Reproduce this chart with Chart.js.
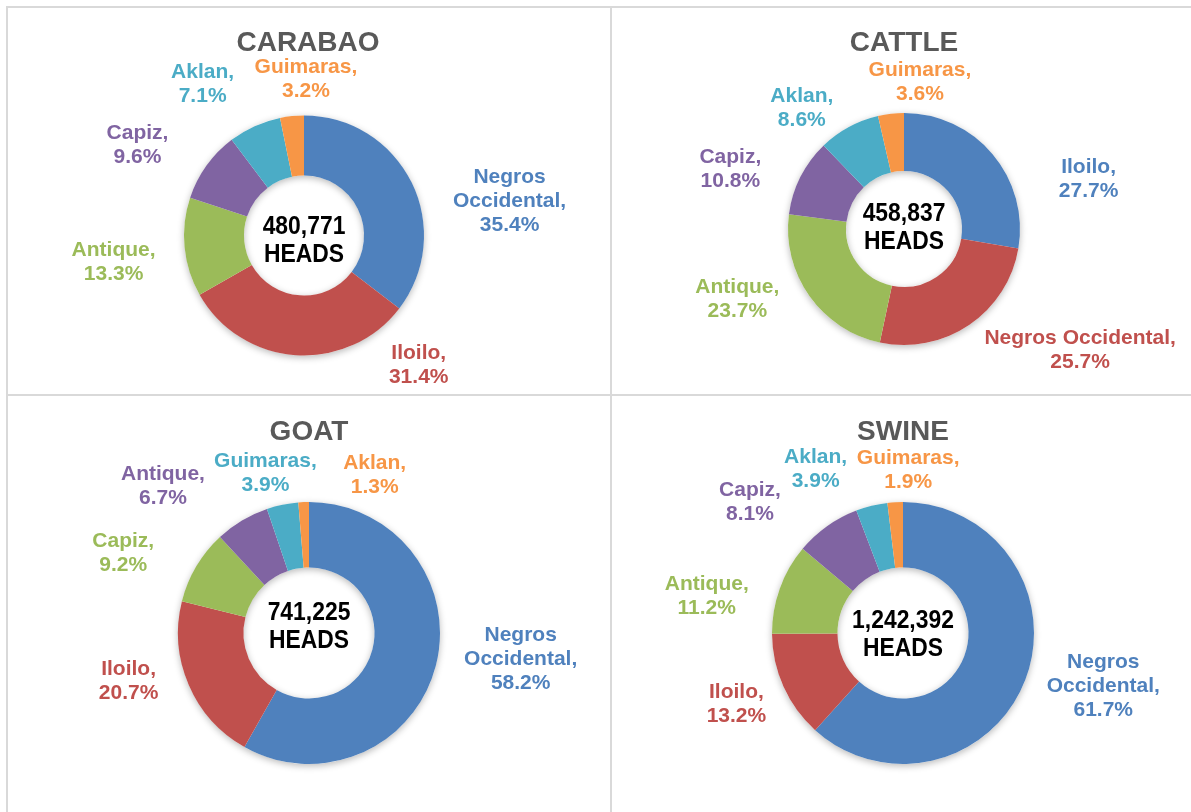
<!DOCTYPE html>
<html>
<head>
<meta charset="utf-8">
<script src="https://cdn.jsdelivr.net/npm/chart.js@4"></script>
<style>
  body { margin: 0; background: #fff; }
  #page { position: relative; width: 1191px; height: 812px; overflow: hidden; }
  #page canvas { position: absolute; }
  .rule { position: absolute; background: #d9d9d9; }
</style>
</head>
<body>
<div id="page">
  <div class="rule" style="left:6px;top:6px;width:1185px;height:2px"></div>
  <div class="rule" style="left:6px;top:6px;width:2px;height:806px"></div>
  <div class="rule" style="left:610px;top:6px;width:2px;height:806px"></div>
  <div class="rule" style="left:6px;top:394px;width:1185px;height:2px"></div>
  <canvas id="carabao" width="611" height="395" style="left:0;top:0"></canvas>
  <canvas id="cattle" width="580" height="395" style="left:611px;top:0"></canvas>
  <canvas id="goat" width="611" height="417" style="left:0;top:395px"></canvas>
  <canvas id="swine" width="580" height="417" style="left:611px;top:395px"></canvas>
</div>
<script>
// shares in percent, slices go clockwise from 12 o'clock
const carabaoRegions = ["Negros Occidental", "Iloilo", "Antique", "Capiz", "Aklan", "Guimaras"];
const carabaoShares = [35.4, 31.4, 13.3, 9.6, 7.1, 3.2];

const cattleRegions = ["Iloilo", "Negros Occidental", "Antique", "Capiz", "Aklan", "Guimaras"];
const cattleShares = [27.7, 25.7, 23.7, 10.8, 8.6, 3.6];

const goatRegions = ["Negros Occidental", "Iloilo", "Capiz", "Antique", "Guimaras", "Aklan"];
const goatShares = [58.2, 20.7, 9.2, 6.7, 3.9, 1.3];

const swineRegions = ["Negros Occidental", "Iloilo", "Antique", "Capiz", "Aklan", "Guimaras"];
const swineShares = [61.7, 13.2, 11.2, 8.1, 3.9, 1.9];

const animalTitles = ["CARABAO", "CATTLE", "GOAT", "SWINE"];
const totalHeads = ["480,771", "458,837", "741,225", "1,242,392"];

const SLICE_COLORS = ["#4F81BD", "#C0504D", "#9BBB59", "#8064A2", "#4BACC6", "#F79646"];
const FONT = '"Liberation Sans", Arial, sans-serif';

// soft shadow under the ring + title, total in the hole, outside labels
const panelText = {
  id: "panelText",
  beforeDatasetsDraw(chart) {
    const arc = chart.getDatasetMeta(0).data[0];
    const ctx = chart.ctx;
    ctx.save();
    ctx.beginPath();
    ctx.arc(arc.x, arc.y, arc.outerRadius, 0, Math.PI * 2);
    ctx.arc(arc.x, arc.y, arc.innerRadius, 0, Math.PI * 2, true);
    ctx.shadowColor = "rgba(0,0,0,0.28)";
    ctx.shadowBlur = 7;
    ctx.shadowOffsetY = 2;
    ctx.fillStyle = "#fff";
    ctx.fill();
    ctx.restore();
  },
  afterDatasetsDraw(chart, args, opts) {
    const ctx = chart.ctx;
    const meta = chart.getDatasetMeta(0);
    const first = meta.data[0];
    const cx = first.x, cy = first.y, R = first.outerRadius;
    const values = chart.data.datasets[0].data;
    ctx.save();
    ctx.textAlign = "center";
    ctx.textBaseline = "middle";

    ctx.fillStyle = "#595959";
    ctx.font = "bold 28px " + FONT;
    ctx.fillText(opts.title, cx + opts.titleDx, opts.titleY);

    // slightly narrow bold total
    ctx.save();
    ctx.fillStyle = "#000";
    ctx.font = "bold 26px " + FONT;
    ctx.translate(cx, cy + opts.centerDy);
    ctx.scale(0.88, 1);
    ctx.fillText(opts.total, 0, -14);
    ctx.fillText("HEADS", 0, 14);
    ctx.restore();

    ctx.font = "bold 21px " + FONT;
    meta.data.forEach((arc, i) => {
      const mid = (arc.startAngle + arc.endAngle) / 2;
      const nudge = opts.nudges[i];
      const x = cx + Math.cos(mid) * R + nudge[0];
      const y = cy + Math.sin(mid) * R + nudge[1];
      const name = chart.data.labels[i];
      let lines;
      if (opts.wrap && name.indexOf(" ") > 0) {
        const sp = name.indexOf(" ");
        lines = [name.slice(0, sp), name.slice(sp + 1) + ","];
      } else {
        lines = [name + ","];
      }
      lines.push(values[i].toFixed(1) + "%");
      ctx.fillStyle = SLICE_COLORS[i];
      lines.forEach((t, k) => {
        ctx.fillText(t, x, y + (k - (lines.length - 1) / 2) * 24);
      });
    });
    ctx.restore();
  },
};

function makeDonut(id, regions, shares, idx, padding, labelOpts) {
  const ctx = document.getElementById(id).getContext("2d");
  return new Chart(ctx, {
    type: "doughnut",
    data: {
      labels: regions,
      datasets: [{
        data: shares,
        backgroundColor: SLICE_COLORS,
        borderWidth: 0,
      }],
    },
    options: {
      responsive: false,
      animation: false,
      cutout: "50%",
      layout: { padding },
      plugins: {
        legend: { display: false },
        tooltip: { enabled: false },
        panelText: Object.assign({ title: animalTitles[idx], total: totalHeads[idx] }, labelOpts),
      },
    },
    plugins: [panelText],
  });
}

makeDonut("carabao", carabaoRegions, carabaoShares, 0,
  { left: 184, right: 187, top: 115, bottom: 39 },
  {
    titleDx: 4, titleY: 43, centerDy: 5, wrap: true,
    nudges: [[98, 19], [123, 10], [-71, 15], [-69, -20], [-52, -42], [14, -37]],
  });

makeDonut("cattle", cattleRegions, cattleShares, 1,
  { left: 177, right: 171, top: 113, bottom: 50 },
  {
    titleDx: 0, titleY: 43, centerDy: -1, wrap: false,
    nudges: [[96, 25], [111, 25], [-72, 3], [-70, -8], [-47, -19], [29, -32]],
  });

makeDonut("goat", goatRegions, goatShares, 2,
  { left: 178, right: 171, top: 107, bottom: 48 },
  {
    titleDx: 0, titleY: 37, centerDy: -6, wrap: true,
    nudges: [[85, -7], [-60, -3], [-73, -13], [-79, -34], [-17, -32], [71, -27]],
  });

makeDonut("swine", swineRegions, swineShares, 3,
  { left: 161, right: 157, top: 107, bottom: 48 },
  {
    titleDx: 0, titleY: 37, centerDy: 2, wrap: true,
    nudges: [[78, 6], [-47, 18], [-73, 8], [-77, -24], [-56, -37], [13, -32]],
  });
</script>
</body>
</html>
